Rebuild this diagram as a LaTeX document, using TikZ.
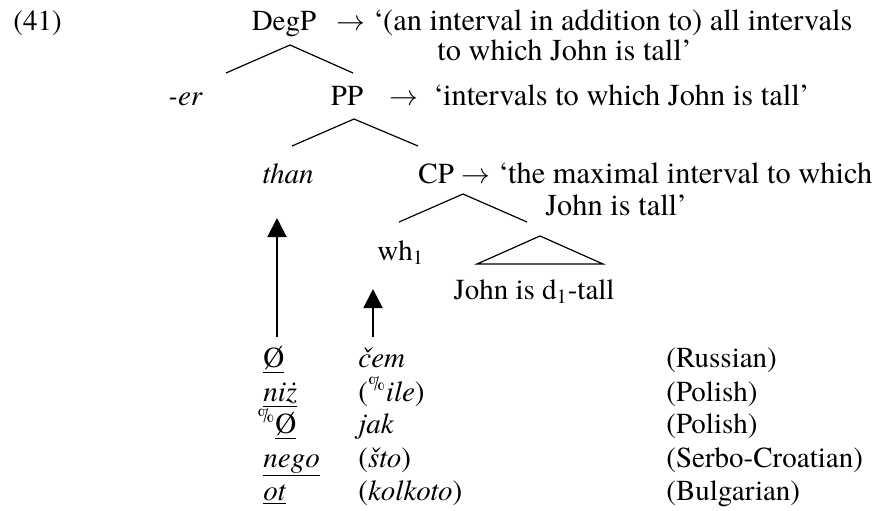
\documentclass[tikz,border=0pt]{standalone}
\usepackage{fontspec}
\setmainfont{texgyretermes}[Extension=.otf, UprightFont=*-regular, ItalicFont=*-italic, BoldFont=*-bold, BoldItalicFont=*-bolditalic]
\usetikzlibrary{arrows.meta,positioning}

\begin{document}
\begin{tikzpicture}[
  x=0.5pt, y=-0.5pt,
  font=\fontsize{14.5}{17}\selectfont,
  lbl/.style={anchor=base west, inner sep=0pt},
  gloss/.style={lbl, font=\fontsize{15.2}{18}\selectfont},
  cat/.style={anchor=base, inner sep=0pt},
  branch/.style={line width=0.6pt},
  mv/.style={-{Triangle[length=9.5pt, width=9.5pt]}, line width=1pt}
]
\useasboundingbox (0,0) rectangle (881,510);

% example number and tree
\node[lbl] (exno) at (13,30) {(41)};
\node[cat] (degp) at (284,30) {DegP};
\node[lbl] (degp-to) at (336,30) {$\rightarrow$};
\node[gloss, base right=3.5pt of degp-to] (degp-gl) {`(an interval in addition to) all intervals};
\node[gloss] (degp-gl2) at (437,60) {to which John is tall'};

\node[lbl] (er) at (168,105) {\textit{-er}};
\node[cat] (pp) at (347,105) {PP};
\node[lbl] (pp-to) at (389,105) {$\rightarrow$};
\node[gloss, base right=7pt of pp-to] (pp-gl) {`intervals to which John is tall'};

\node[lbl] (than) at (262,183) {\textit{than}};
\node[lbl] (cp) at (418,183) {CP};
\node[lbl] (cp-to) at (461,183) {$\rightarrow$};
\node[gloss, base right=3.5pt of cp-to] (cp-gl) {`the maximal interval to which};
\node[gloss] (cp-gl2) at (545,215) {John is tall'};

\node[lbl] (wh) at (377,260) {wh\textsubscript{1}};
\node[cat] (ip) at (534,299) {John is d\textsubscript{1}-tall};

% branches
\coordinate (degp-a) at (290,45);
\coordinate (degp-l) at (226,73);
\coordinate (degp-r) at (353,73);
\coordinate (pp-a) at (354,119);
\coordinate (pp-l) at (292,146);
\coordinate (pp-r) at (418,146);
\coordinate (cp-a) at (463,194);
\coordinate (cp-l) at (399,222);
\coordinate (cp-r) at (527,222);
\coordinate (ip-a) at (540,236);
\coordinate (ip-l) at (477,264);
\coordinate (ip-r) at (603,264);
\draw[branch] (degp-l) -- (degp-a) -- (degp-r);
\draw[branch] (pp-l) -- (pp-a) -- (pp-r);
\draw[branch] (cp-l) -- (cp-a) -- (cp-r);
\draw[branch] (ip-l) -- (ip-a) -- (ip-r) -- cycle;

% language table
\node[lbl] (r1a) at (263,367) {\underline{Ø}};
\node[lbl] (r1b) at (358,367) {\textit{čem}};
\node[lbl] (r1c) at (666,367) {(Russian)};
\node[lbl] (r2a) at (263,401) {\underline{\textit{niż}}};
\node[lbl] (r2b) at (358,401) {(\textsuperscript{\%}\textit{ile})};
\node[lbl] (r2c) at (666,401) {(Polish)};
\node[lbl] (r3a) at (257,433) {\textsuperscript{\%}\underline{Ø}};
\node[lbl] (r3b) at (358,433) {\textit{jak}};
\node[lbl] (r3c) at (666,433) {(Polish)};
\node[lbl] (r4a) at (263,467) {\underline{\textit{nego}}};
\node[lbl] (r4b) at (358,467) {(\textit{što})};
\node[lbl] (r4c) at (666,467) {(Serbo-Croatian)};
\node[lbl] (r5a) at (263,500) {\underline{\textit{ot}}};
\node[lbl] (r5b) at (358,500) {(\textit{kolkoto})};
\node[lbl] (r5c) at (666,500) {(Bulgarian)};

% movement arrows
\coordinate (mv1-foot) at (277,337);
\coordinate (mv1-tip) at (277,218);
\coordinate (mv2-foot) at (373,337);
\coordinate (mv2-tip) at (373,289);
\draw[mv] (mv1-foot) -- (mv1-tip);
\draw[mv] (mv2-foot) -- (mv2-tip);
\end{tikzpicture}
\end{document}
